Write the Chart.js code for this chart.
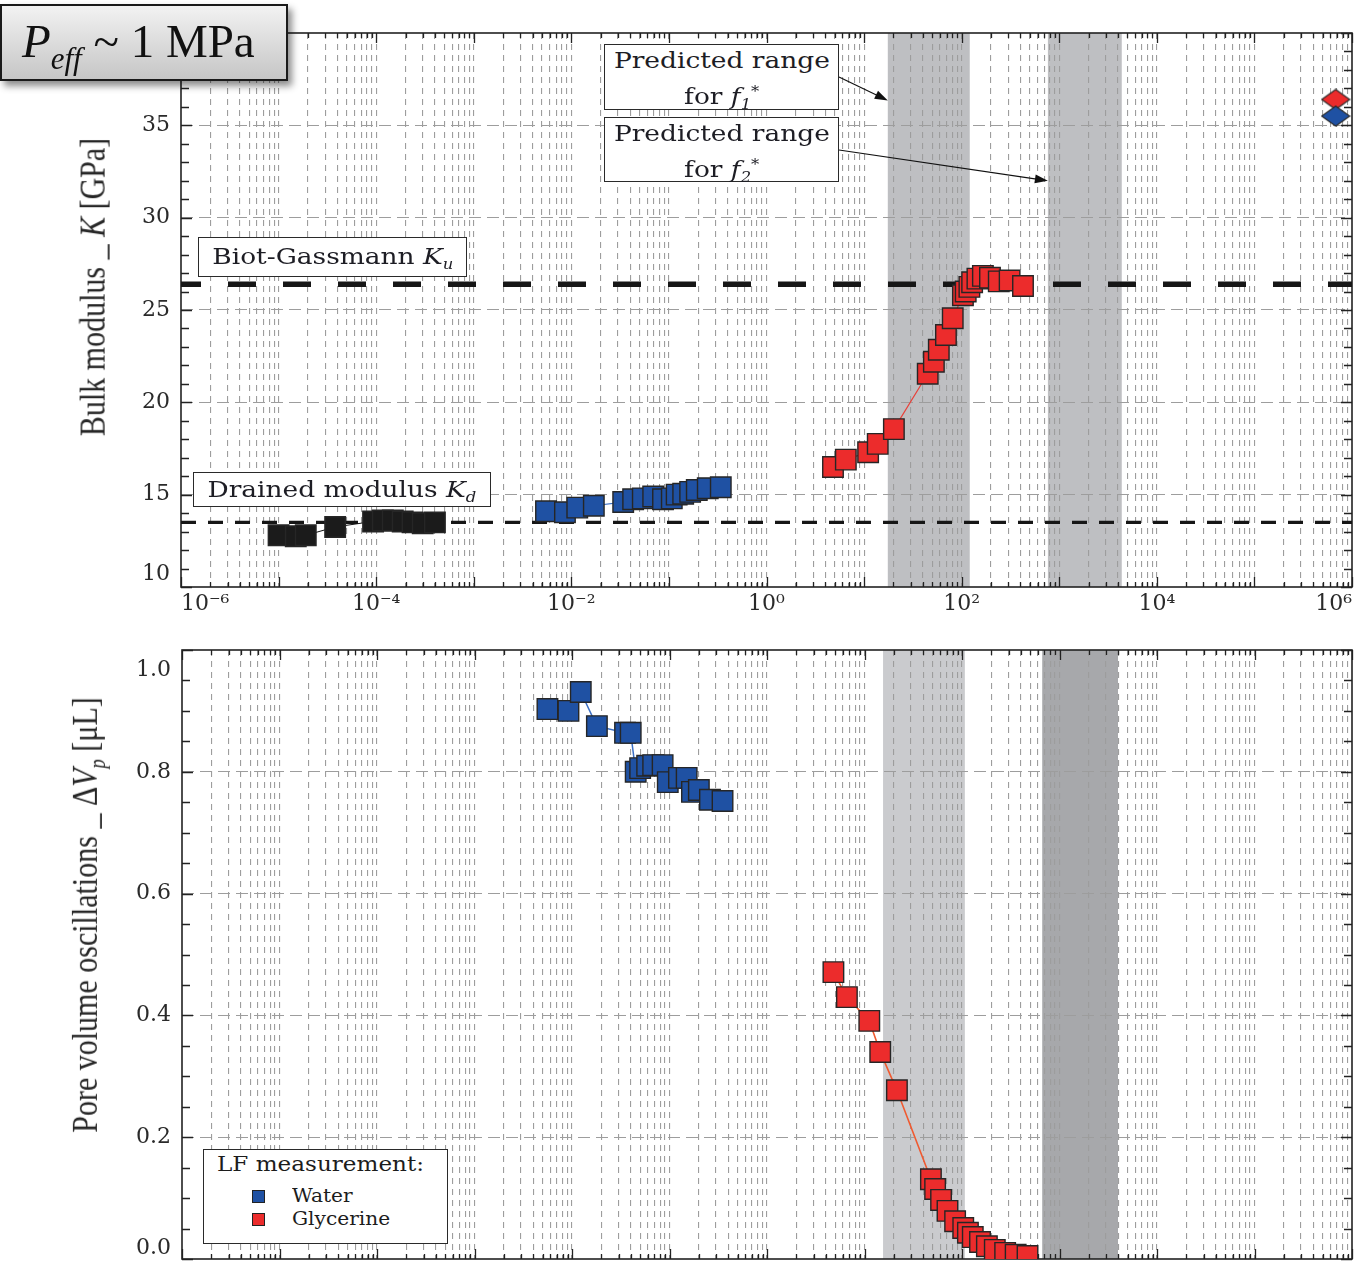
<!DOCTYPE html>
<html>
<head>
<meta charset="utf-8">
<title>Bulk modulus and pore volume oscillations vs frequency</title>
<script src="https://cdn.jsdelivr.net/npm/chart.js@4.4.1/dist/chart.umd.min.js"></script>
<style>
  html, body { margin: 0; padding: 0; background: #fff; }
  body { width: 1354px; height: 1261px; overflow: hidden; position: relative; font-family: "DejaVu Serif", serif; color: #1c1c1c; }
  .wrap { position: absolute; left: 0; }
  #topWrap { top: 0; width: 1354px; height: 620px; }
  #botWrap { top: 620px; width: 1354px; height: 700px; }
  .box { position: absolute; background: #fff; border: 1.5px solid #2a2a2a; box-sizing: border-box; white-space: nowrap; }
  .note { font-family: "DejaVu Serif", serif; font-size: 23px; color: #1d1d24; text-align: center; line-height: 31px; }
  .wide { display: inline-block; transform: scaleX(1.15); }
  .it { font-style: italic; }
  .sub { font-size: 0.62em; vertical-align: -0.35em; font-style: italic; }
  .sup { font-size: 0.62em; vertical-align: 0.55em; }
  .ytitle { position: absolute; white-space: nowrap; font-family: "Liberation Serif", serif; font-size: 30px; color: #262626;
            transform: translate(-50%, -50%) rotate(-90deg) scaleY(1.2); }
  #pbox { position: absolute; left: 0; top: 4px; width: 288px; height: 77px; box-sizing: border-box;
          border: 2px solid #1a1a1a; background: linear-gradient(#f2f2f2, #c6c6c6);
          box-shadow: 4px 5px 7px rgba(0,0,0,0.45); font-family: "Liberation Serif", serif; font-size: 47px;
          color: #111; padding-left: 20px; line-height: 70px; white-space: nowrap; }
  #pbox .sub { font-size: 31px; vertical-align: -12px; }
  #legend { position: absolute; left: 203px; top: 1149px; width: 245px; height: 95px; }
  #legend .lt { position: absolute; left: 13px; top: 2px; font-size: 21px; transform-origin: 0 50%; transform: scaleX(1.1); }
  #legend .row { position: absolute; left: 48px; font-size: 18px; }
  #legend .lbl { display: inline-block; transform-origin: 0 50%; transform: scaleX(1.12); }
  #legend .sw { display: inline-block; width: 13px; height: 13px; border: 1.2px solid #222; box-sizing: border-box; margin-right: 27px; vertical-align: -1px; }
</style>
</head>
<body>
<div id="topWrap" class="wrap"><canvas id="topChart" width="1354" height="620"></canvas></div>
<div id="botWrap" class="wrap"><canvas id="botChart" width="1354" height="700"></canvas></div>

<div class="ytitle" style="left:93px; top:287px;">Bulk modulus _ <span class="it">K</span> [GPa]</div>
<div class="ytitle" style="left:88px; top:915px;">Pore volume oscillations _ Δ<span class="it">V</span><span class="sub">p</span> [μL]</div>

<div id="pbox"><span class="it">P</span><span class="sub">eff</span> ~ 1 MPa</div>

<div class="box note" style="left:604px; top:44px; width:235px; height:66px;"><span class="wide">Predicted range</span><br><span class="wide">for <span class="it">f</span><span class="sub">1</span><span class="sup">*</span></span></div>
<div class="box note" style="left:604px; top:117px; width:235px; height:65px;"><span class="wide">Predicted range</span><br><span class="wide">for <span class="it">f</span><span class="sub">2</span><span class="sup">*</span></span></div>
<div class="box note" style="left:198px; top:237px; width:269px; height:40px; line-height:36px;"><span class="wide">Biot-Gassmann <span class="it">K</span><span class="sub">u</span></span></div>
<div class="box note" style="left:193px; top:472px; width:298px; height:35px; line-height:32px;"><span class="wide">Drained modulus <span class="it">K</span><span class="sub">d</span></span></div>

<div id="legend" class="box">
  <div class="lt">LF measurement:</div>
  <div class="row" style="top:35px;"><span class="sw" style="background:#1f51a3"></span><span class="lbl">Water</span></div>
  <div class="row" style="top:58px;"><span class="sw" style="background:#ec2c2c"></span><span class="lbl">Glycerine</span></div>
</div>

<script>
// ---- frequency axis (Hz) ----
const freqMin = 1e-6;
const freqMax = 1e6;
const labelledDecades = [-6, -4, -2, 0, 2, 4, 6];

// ---- bulk modulus K [GPa] ----
const kTicks = [10, 15, 20, 25, 30, 35, 40];
const kMin = 10, kMax = 40;
const biotGassmannKu = 26.4;
const drainedKd = 13.5;

// dry / low-frequency reference points (black)
const kDryFreq = [1.0e-5, 1.5e-5, 1.9e-5, 3.8e-5, 9.3e-5, 1.17e-4, 1.48e-4, 1.87e-4, 2.36e-4, 3.0e-4, 4.0e-4];
const kDryVal  = [12.8, 12.75, 12.8, 13.25, 13.55, 13.6, 13.6, 13.55, 13.5, 13.45, 13.5];

// water saturated (blue)
const kWaterFreq = [5.5e-3, 8.6e-3, 1.15e-2, 1.7e-2, 3.4e-2, 4.3e-2, 5.4e-2, 6.9e-2, 8.7e-2, 1.07e-1, 1.2e-1, 1.4e-1, 1.65e-1, 1.93e-1, 2.5e-1, 3.4e-1];
const kWaterVal  = [14.1, 14.05, 14.3, 14.4, 14.6, 14.75, 14.8, 14.9, 14.75, 14.8, 15.0, 15.05, 15.15, 15.25, 15.35, 15.4];

// glycerine saturated (red)
const kGlyFreq = [4.8, 6.5, 11, 13.8, 20.2, 44.9, 51.9, 58.3, 69, 81, 103, 110, 120, 128, 145, 165, 195, 240, 310, 425];
const kGlyVal  = [16.5, 16.9, 17.3, 17.75, 18.55, 21.55, 22.2, 22.85, 23.65, 24.55, 25.8, 26.0, 26.25, 26.5, 26.7, 26.85, 26.75, 26.55, 26.6, 26.3];

// high-frequency (ultrasonic) values
const kHfFreq = [6.8e5];
const kHfGly = [36.4];
const kHfWater = [35.5];

// predicted characteristic frequency ranges [Hz]
const topBands = [[17.5, 121], [765, 4370]];

// ---- pore volume oscillations dVp [uL] ----
const vTicks = [0.0, 0.2, 0.4, 0.6, 0.8, 1.0];
const vMin = 0, vMax = 1.0;

const vWaterFreq = [5.6e-3, 9.2e-3, 1.23e-2, 1.8e-2, 3.5e-2, 4.0e-2, 4.5e-2, 5.0e-2, 5.9e-2, 6.8e-2, 8.5e-2, 9.6e-2, 1.25e-1, 1.5e-1, 1.7e-1, 2.0e-1, 2.6e-1, 3.5e-1];
const vWaterVal  = [0.903, 0.90, 0.931, 0.875, 0.864, 0.864, 0.80, 0.806, 0.81, 0.811, 0.811, 0.783, 0.79, 0.79, 0.767, 0.77, 0.754, 0.752];

const vGlyFreq = [4.8, 6.6, 11.2, 14.5, 21.5, 48, 53, 61, 71, 85, 103, 115, 129, 153, 180, 217, 277, 355, 470];
const vGlyVal  = [0.471, 0.43, 0.391, 0.34, 0.277, 0.131, 0.115, 0.097, 0.079, 0.062, 0.051, 0.043, 0.036, 0.028, 0.021, 0.015, 0.010, 0.007, 0.005];

const botBands = [[15.5, 107], [665, 3980]];

// ---- colours ----
const RED = '#ec2c2c', BLUE = '#1f51a3', BLACK = '#1b1b1b';
const GRID = '#9d9d9d';

Chart.defaults.font.family = '"DejaVu Serif", serif';
Chart.defaults.color = '#2a2a2a';

// all 1..9 x 10^n positions for the logarithmic grid
function logPositions(lo, hi) {
  const out = [];
  const e0 = Math.round(Math.log10(lo)), e1 = Math.round(Math.log10(hi));
  for (let e = e0; e < e1; e++) for (let m = 1; m <= 9; m++) out.push(m * Math.pow(10, e));
  out.push(hi);
  return out;
}
const SUP = { '-': '\u207B', '0': '\u2070', '1': '\u00B9', '2': '\u00B2', '3': '\u00B3', '4': '\u2074', '5': '\u2075', '6': '\u2076', '7': '\u2077', '8': '\u2078', '9': '\u2079' };
function decadeLabel(v) {
  const e = Math.round(Math.log10(v));
  if (Math.abs(v / Math.pow(10, e) - 1) > 1e-6) return '';
  if (!labelledDecades.includes(e)) return '';
  return '10' + String(e).split('').map(c => SUP[c]).join('');
}
function isDecade(v) {
  const e = Math.round(Math.log10(v));
  return Math.abs(v / Math.pow(10, e) - 1) < 1e-6;
}

function points(xs, ys) { return xs.map((x, i) => ({ x: x, y: ys[i] })); }

function markerSeries(xs, ys, fill, line, order, lineWidth) {
  return {
    data: points(xs, ys),
    showLine: true,
    borderColor: line,
    borderWidth: lineWidth,
    backgroundColor: fill,
    pointStyle: 'rect',
    pointRadius: 14.5,
    pointBackgroundColor: fill,
    pointBorderColor: '#262626',
    pointBorderWidth: 1.4,
    order: order
  };
}

function diamondImage(fill) {
  const c = document.createElement('canvas');
  c.width = 30; c.height = 22;
  const g = c.getContext('2d');
  g.beginPath();
  g.moveTo(15, 1); g.lineTo(29, 11); g.lineTo(15, 21); g.lineTo(1, 11); g.closePath();
  g.fillStyle = fill; g.fill();
  g.lineWidth = 1.2; g.strokeStyle = '#2a2a2a'; g.stroke();
  return c;
}

// shaded frequency bands behind the grid
const bandPlugin = {
  id: 'bands',
  beforeDraw(chart, args, opts) {
    const { ctx, chartArea: a, scales: { x } } = chart;
    ctx.save();
    (opts.list || []).forEach((b, i) => {
      const x0 = x.getPixelForValue(b[0]), x1 = x.getPixelForValue(b[1]);
      ctx.fillStyle = opts.colors[i];
      ctx.fillRect(x0, a.top, x1 - x0, a.bottom - a.top);
    });
    ctx.restore();
  }
};

// plot frame with inward tick marks
const framePlugin = {
  id: 'frame',
  beforeDatasetsDraw(chart, args, opts) {
    const { ctx, chartArea: a, scales: { x, y } } = chart;
    ctx.save();
    ctx.strokeStyle = '#222';
    ctx.lineWidth = 1.3;
    ctx.beginPath();
    for (let v = y.min; v <= y.max + 1e-9; v += opts.yMinor) {
      const major = Math.abs(v / opts.yMajor - Math.round(v / opts.yMajor)) < 1e-6;
      const len = major ? 11 : 8;
      const py = Math.round(y.getPixelForValue(v)) + 0.5;
      ctx.moveTo(a.left, py); ctx.lineTo(a.left + len, py);
      ctx.moveTo(a.right, py); ctx.lineTo(a.right - len, py);
    }
    logPositions(freqMin, freqMax).forEach(v => {
      const len = isDecade(v) ? 10 : 5;
      const px = Math.round(x.getPixelForValue(v)) + 0.5;
      ctx.moveTo(px, a.bottom); ctx.lineTo(px, a.bottom - len);
      ctx.moveTo(px, a.top); ctx.lineTo(px, a.top + len);
    });
    ctx.stroke();
    ctx.lineWidth = 1.6;
    ctx.strokeRect(a.left, a.top, a.right - a.left, a.bottom - a.top);
    ctx.restore();
  }
};

// arrows from the range notes to the shaded bands
const arrowPlugin = {
  id: 'arrows',
  afterDraw(chart, args, opts) {
    if (!opts.list) return;
    const { ctx, scales: { x, y } } = chart;
    ctx.save();
    ctx.strokeStyle = '#111'; ctx.fillStyle = '#111'; ctx.lineWidth = 1.2;
    opts.list.forEach(ar => {
      const x0 = ar.fromPx[0], y0 = ar.fromPx[1];
      const x1 = x.getPixelForValue(ar.toFreq), y1 = y.getPixelForValue(ar.toVal);
      const ang = Math.atan2(y1 - y0, x1 - x0);
      ctx.beginPath(); ctx.moveTo(x0, y0); ctx.lineTo(x1 - 8 * Math.cos(ang), y1 - 8 * Math.sin(ang)); ctx.stroke();
      ctx.beginPath();
      ctx.moveTo(x1, y1);
      ctx.lineTo(x1 - 13 * Math.cos(ang) + 4.5 * Math.sin(ang), y1 - 13 * Math.sin(ang) - 4.5 * Math.cos(ang));
      ctx.lineTo(x1 - 13 * Math.cos(ang) - 4.5 * Math.sin(ang), y1 - 13 * Math.sin(ang) + 4.5 * Math.cos(ang));
      ctx.closePath(); ctx.fill();
    });
    ctx.restore();
  }
};

function xScale(showLabels, axisHeight) {
  return {
    type: 'logarithmic',
    min: freqMin, max: freqMax,
    afterBuildTicks: s => { s.ticks = logPositions(freqMin, freqMax).map(v => ({ value: v })); },
    afterFit: s => { s.height = axisHeight; s.paddingLeft = 0; s.paddingRight = 0; s.paddingTop = 0; s.paddingBottom = 0; },
    ticks: {
      display: showLabels, autoSkip: false, maxRotation: 0, minRotation: 0, align: 'inner',
      padding: 4, color: '#2a2a2a', font: { size: 22 },
      callback: v => decadeLabel(v)
    },
    grid: {
      color: ctx => (ctx.tick && (ctx.tick.value <= freqMin * 1.0001 || ctx.tick.value >= freqMax * 0.9999)) ? 'rgba(0,0,0,0)' : GRID,
      lineWidth: 1.1, drawTicks: false
    },
    border: { display: false, dash: [6, 5] }
  };
}

// edgeShift: line height used for the two-line labels at the axis ends
function yScale(min, max, minor, major, axisWidth, fmt, edgeLabel, edgeLineHeight) {
  const vals = [];
  for (let i = 0; min + i * minor <= max + 1e-9; i++) vals.push(+(min + i * minor).toFixed(4));
  const isMajor = v => Math.abs(v / major - Math.round(v / major)) < 1e-6;
  return {
    type: 'linear', min: min, max: max,
    afterBuildTicks: s => { s.ticks = vals.map(v => ({ value: v })); },
    afterFit: s => { s.width = axisWidth; s.paddingLeft = 0; s.paddingRight = 0; s.paddingTop = 0; s.paddingBottom = 0; },
    ticks: {
      autoSkip: false, padding: 11, color: '#2a2a2a',
      font: ctx => {
        const v = ctx.tick ? ctx.tick.value : null;
        if (v === min) return { size: 22, lineHeight: edgeLineHeight[0] };
        if (v === max) return { size: 22, lineHeight: edgeLineHeight[1] };
        return { size: 22, lineHeight: 1.2 };
      },
      callback: v => isMajor(v) ? edgeLabel(v, fmt(v)) : ''
    },
    grid: {
      color: ctx => (ctx.tick && isMajor(ctx.tick.value) && ctx.tick.value > min && ctx.tick.value < max) ? GRID : 'rgba(0,0,0,0)',
      lineWidth: 1.1, drawTicks: false
    },
    border: { display: false, dash: [12, 6] }
  };
}

const commonPlugins = {
  legend: { display: false },
  tooltip: { enabled: false }
};

// ---------- top panel: bulk modulus ----------
new Chart(document.getElementById('topChart'), {
  type: 'scatter',
  data: {
    datasets: [
      { data: [{ x: freqMin, y: biotGassmannKu }, { x: freqMax, y: biotGassmannKu }], showLine: true,
        borderColor: '#161616', borderWidth: 5.5, borderDash: [28, 27], borderDashOffset: 8, pointRadius: 0, order: 20 },
      { data: [{ x: freqMin, y: drainedKd }, { x: freqMax, y: drainedKd }], showLine: true,
        borderColor: '#161616', borderWidth: 3.4, borderDash: [15, 12], pointRadius: 0, order: 21 },
      markerSeries(kDryFreq, kDryVal, BLACK, '#111', 5, 1),
      markerSeries(kWaterFreq, kWaterVal, BLUE, '#3b6fc4', 4, 1.2),
      markerSeries(kGlyFreq, kGlyVal, RED, '#e8413a', 3, 1.2),
      { data: points(kHfFreq, kHfGly), pointStyle: diamondImage(RED), pointRadius: 14, showLine: false, order: 2 },
      { data: points(kHfFreq, kHfWater), pointStyle: diamondImage(BLUE), pointRadius: 14, showLine: false, order: 1 }
    ]
  },
  options: {
    responsive: false, animation: false, devicePixelRatio: 1,
    layout: { autoPadding: false, padding: { top: 33, right: 2, left: 0, bottom: 0 } },
    scales: {
      x: xScale(true, 33),
      y: yScale(kMin, kMax, 1, 5, 181, v => String(v),
                (v, s) => v === kMax ? '' : (v === kMin ? [s, ''] : s), [1.2, 1.2])
    },
    plugins: Object.assign({}, commonPlugins, {
      bands: { list: topBands, colors: ['#bebfc2', '#bebfc2'] },
      frame: { yMinor: 1, yMajor: 5 },
      arrows: { list: [
        { fromPx: [839, 77], toFreq: topBands[0][0], toVal: 36.35 },
        { fromPx: [839, 150], toFreq: topBands[1][0], toVal: 32.0 }
      ] }
    })
  },
  plugins: [bandPlugin, framePlugin, arrowPlugin]
});

// ---------- bottom panel: pore volume oscillations ----------
new Chart(document.getElementById('botChart'), {
  type: 'scatter',
  data: {
    datasets: [
      markerSeries(vWaterFreq, vWaterVal, BLUE, '#3b6fc4', 2, 1.5),
      markerSeries(vGlyFreq, vGlyVal, RED, '#f05a30', 1, 1.6)
    ]
  },
  options: {
    responsive: false, animation: false, devicePixelRatio: 1,
    layout: { autoPadding: false, padding: { top: 30, right: 2, left: 0, bottom: 0 } },
    scales: {
      x: xScale(false, 61),
      y: yScale(vMin, vMax, 0.05, 0.2, 182, v => v.toFixed(1),
                (v, s) => v === vMax ? ['', s] : (v === vMin ? [s, ''] : s), [1.0, 1.8])
    },
    plugins: Object.assign({}, commonPlugins, {
      bands: { list: botBands, colors: ['#cacbce', '#a7a8ab'] },
      frame: { yMinor: 0.05, yMajor: 0.2 }
    })
  },
  plugins: [bandPlugin, framePlugin]
});
</script>
</body>
</html>
